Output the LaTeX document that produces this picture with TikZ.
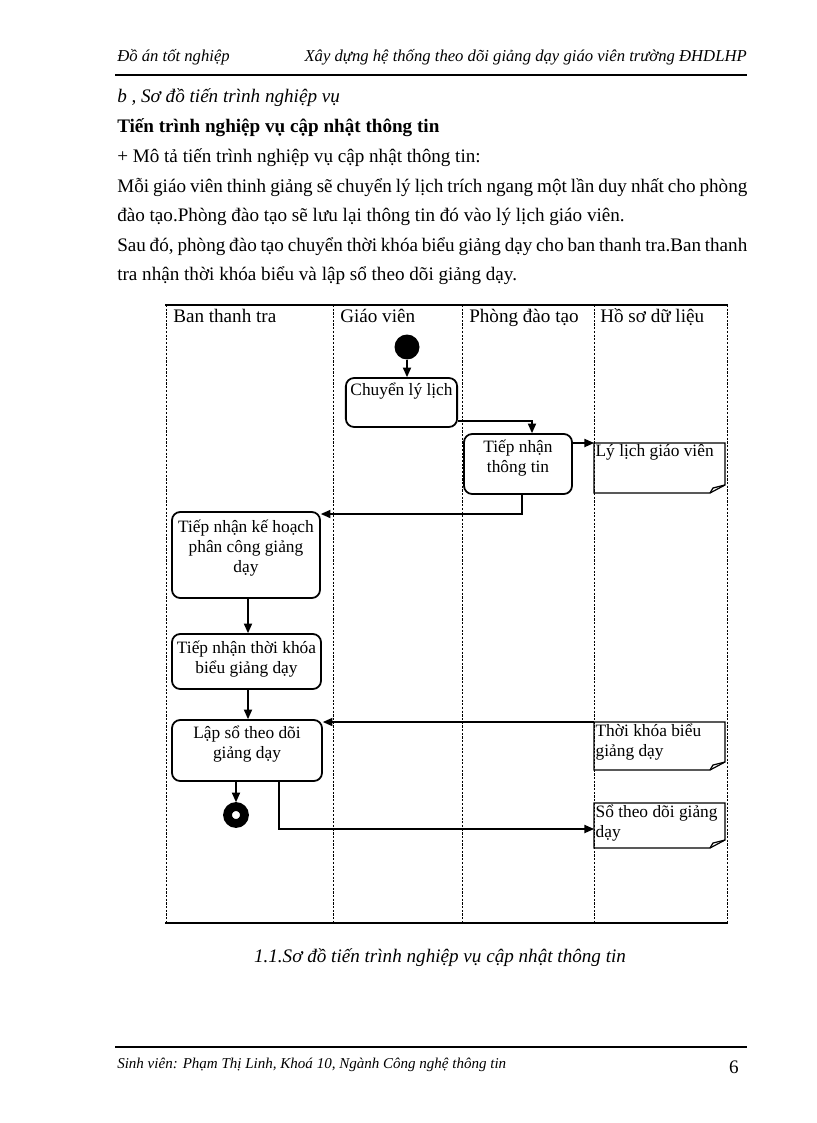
\documentclass[tikz,border=0pt]{standalone}
\usepackage{fontspec}
\setmainfont{Liberation Serif}
\usetikzlibrary{arrows.meta}

\begin{document}
\begin{tikzpicture}
[x=0.7322pt,y=-0.7322pt,%
  txt/.style={inner sep=0pt,anchor=base west,font=\fontsize{14}{16}\selectfont},%
  small/.style={inner sep=0pt,font=\fontsize{11}{13}\selectfont\itshape},%
  lane/.style={draw,dash pattern=on 1.6pt off 1.1pt,line width=0.6pt},%
  act/.style={draw,rounded corners=6pt,line width=1.3pt,align=center,%
    font=\fontsize{12.7}{14.6}\selectfont},%
  sz/.style 2 args={minimum width=#1*0.7322pt,minimum height=#2*0.7322pt},%
  notetext/.style={inner sep=1pt,anchor=north west,align=left,%
    font=\fontsize{12.7}{14.6}\selectfont},%
  notebox/.style={line width=0.9pt},%
  flow/.style={line width=0.9pt,-{Triangle[length=7pt,width=6pt]}}]
\fill[white] (0,0) rectangle (816,1123);
\useasboundingbox (0,0) rectangle (816,1123);
% page header
\node[small,font=\fontsize{12.2}{14}\selectfont\itshape,anchor=base west] (hdl)
  at (117,62) {Đồ án tốt nghiệp};
\node[small,font=\fontsize{12.2}{14}\selectfont\itshape,anchor=base east] (hdr)
  at (747,62) {Xây dựng hệ thống theo dõi giảng dạy giáo viên trường ĐHDLHP};
\draw[line width=1pt] (115,75) -- (747,75);
% text above the diagram
\node[txt,font=\fontsize{14}{16}\selectfont\itshape] (sub) at (117,103)
  {b , Sơ đồ tiến trình nghiệp vụ};
\node[txt,font=\fontsize{14}{16}\selectfont\bfseries] (title) at (117,132)
  {Tiến trình nghiệp vụ cập nhật thông tin};
\node[txt] (l1) at (117,162) {+ Mô tả tiến trình nghiệp vụ cập nhật thông tin:};
\node[txt] (l2) at (117,192) {\makebox[461.3pt][s]{Mỗi giáo viên thinh giảng sẽ
  chuyển lý lịch trích ngang một lần duy nhất cho phòng}};
\node[txt] (l3) at (117,221)
  {đào tạo.Phòng đào tạo sẽ lưu lại thông tin đó vào lý lịch giáo viên.};
\node[txt] (l4) at (117,251) {\makebox[461.3pt][s]{Sau đó, phòng đào tạo chuyển
  thời khóa biểu giảng dạy cho ban thanh tra.Ban thanh}};
\node[txt] (l5) at (117,280) {tra nhận thời khóa biểu và lập sổ theo dõi giảng dạy.};
% swimlanes
\draw[line width=1pt] (165,305) -- (728,305);
\draw[line width=1pt] (165,923) -- (728,923);
\foreach \x in {166,333,462,594,727}
  \draw[lane] (\x,305) -- (\x,923);
\node[txt] (ban) at (173,322) {Ban thanh tra};
\node[txt] (gv) at (340,322) {Giáo viên};
\node[txt] (pdt) at (469,322) {Phòng đào tạo};
\node[txt] (hs) at (600,322) {Hồ sơ dữ liệu};
% activities
\node[circle,fill,inner sep=0pt,minimum size=18.3pt] (start) at (407,347) {};
\node[act,sz={109}{49}] (chuyen) at (401.5,402.5) {Chuyển lý lịch\\[4.5pt]\mbox{}};
\node[act,sz={108}{60}] (tiepnhan) at (518,464) {Tiếp nhận\\thông tin\\[-3pt]\mbox{}};
\node[act,sz={148}{86}] (kehoach) at (246,555)
  {Tiếp nhận kế hoạch\\phân công giảng\\dạy\\[-1.5pt]\mbox{}};
\node[act,sz={149}{55}] (tkb) at (246.5,661.5)
  {Tiếp nhận thời khóa\\biểu giảng dạy\\[-8pt]\mbox{}};
\node[act,sz={150}{61}] (lapso) at (247,750.5)
  {Lập sổ theo dõi\\giảng dạy\\[-2.5pt]\mbox{}};
\node[circle,draw,line width=6.4pt,inner sep=0pt,minimum size=12.4pt,outer sep=3.2pt]
  (stop) at (236,815) {};
% data notes
\node[notetext] (lylich) at (594,443) {Lý lịch giáo viên};
\draw[notebox] (lylich.north west) -- ++(131,0) -- ++(0,42) -- ++(-15,8) -- ++(-116,0) -- cycle;
\draw[notebox] (lylich.north west) ++(131,42) -- ++(-12,3) -- ++(-3,5);
\node[notetext] (tkbnote) at (594,722) {Thời khóa biểu\\giảng dạy};
\draw[notebox] (tkbnote.north west) -- ++(131,0) -- ++(0,40) -- ++(-15,8) -- ++(-116,0) -- cycle;
\draw[notebox] (tkbnote.north west) ++(131,40) -- ++(-12,3) -- ++(-3,5);
\node[notetext] (sonote) at (594,803) {Sổ theo dõi giảng\\dạy};
\draw[notebox] (sonote.north west) -- ++(131,0) -- ++(0,37) -- ++(-15,8) -- ++(-116,0) -- cycle;
\draw[notebox] (sonote.north west) ++(131,37) -- ++(-12,3) -- ++(-3,5);
% flows
\draw[flow] (start) -- (start |- chuyen.north);
\draw[flow] (chuyen.east |- 0,421) -| (tiepnhan.north -| 532,0);
\draw[flow] (tiepnhan.east |- lylich.north west) -- (lylich.north west);
\draw[flow] (tiepnhan.south -| 522,0) |- (kehoach.east |- 0,514);
\draw[flow] (kehoach.south -| 248,0) -- (tkb.north -| 248,0);
\draw[flow] (tkb.south -| 248,0) -- (lapso.north -| 248,0);
\draw[flow] (tkbnote.north west) -- (lapso.east |- tkbnote.north west);
\draw[flow] (lapso.south -| stop) -- (stop.north);
\draw[flow] (lapso.south -| 279,0) |- (sonote.west |- 0,829);
% caption and footer
\node[inner sep=0pt,anchor=base,font=\fontsize{14}{16}\selectfont\itshape] (cap)
  at (440,962) {1.1.Sơ đồ tiến trình nghiệp vụ cập nhật thông tin};
\draw[line width=1pt] (115,1047) -- (747,1047);
\node[small,anchor=base west] (ft) at (117,1068)
  {Sinh viên: Phạm Thị Linh, Khoá 10, Ngành Công nghệ thông tin};
\node[txt,anchor=base east] (pg) at (739,1073) {6};
\end{tikzpicture}
\end{document}
